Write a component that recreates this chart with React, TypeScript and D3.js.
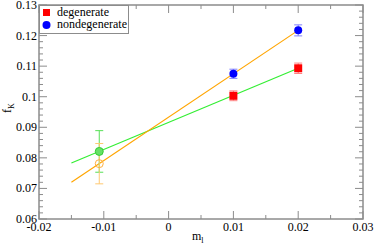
import React from "react";
import * as d3 from "d3";

// measured points (m_l, f_K, error)
const degX = [0.01, 0.02];
const degY = [0.1003, 0.1093];
const degErr = [0.0016, 0.0017];

const nonX = [0.01, 0.02];
const nonY = [0.1075, 0.1217];
const nonErr = [0.0015, 0.0018];

// extrapolated points
const extrapX = -0.0107;
const extrapDegY = 0.0821;
const extrapDegErr = 0.0068;
const extrapNonY = 0.0781;
const extrapNonErr = 0.0066;

// linear fits, endpoints
const fitX = [-0.015, 0.02];
const fitDegY = [0.0783, 0.1093];
const fitNonY = [0.072, 0.1217];

const xTicks = [-0.02, -0.01, 0, 0.01, 0.02, 0.03];
const yTicks = [0.06, 0.07, 0.08, 0.09, 0.1, 0.11, 0.12, 0.13];

const W = 374;
const H = 245;
const left = 39;
const right = 363;
const top = 5;
const bottom = 219;

const font = "Liberation Serif";
const axisColor = "#8c8c8c";

export default function App() {
  const x = d3.scaleLinear().domain([-0.02, 0.03]).range([left, right]);
  const y = d3.scaleLinear().domain([0.06, 0.13]).range([bottom, top]);

  const fitPath = (ys: number[]) =>
    d3
      .line<[number, number]>()
      .x((d) => x(d[0]))
      .y((d) => y(d[1]))(fitX.map((v, i) => [v, ys[i]]));

  const xMinor = d3.range(-0.02, 0.0301, 0.005);
  const yMinor = d3.range(0.06, 0.1301, 0.002);

  const errBar = (cx: number, cy: number, e: number, color: string, key: string) => {
    const px = x(cx);
    const y1 = y(cy + e);
    const y2 = y(cy - e);
    return (
      <g key={key} stroke={color} strokeWidth={1}>
        <line x1={px} x2={px} y1={y1} y2={y2} />
        <line x1={px - 4} x2={px + 4} y1={y1} y2={y1} />
        <line x1={px - 4} x2={px + 4} y1={y2} y2={y2} />
      </g>
    );
  };

  const txt = { fontFamily: font, fontSize: 12 };

  return (
    <svg width={W} height={H} style={{ position: "absolute", left: 0, top: 0, background: "white" }}>
      {/* fit lines */}
      <path d={fitPath(fitDegY) || ""} stroke="#33ee33" strokeWidth={1.2} fill="none" />
      <path d={fitPath(fitNonY) || ""} stroke="#ffa500" strokeWidth={1.2} fill="none" />

      {/* error bars */}
      {degX.map((v, i) => errBar(v, degY[i], degErr[i], "#ff8080", "de" + i))}
      {nonX.map((v, i) => errBar(v, nonY[i], nonErr[i], "#8080ff", "ne" + i))}
      {errBar(extrapX, extrapDegY, extrapDegErr, "#55e055", "xg")}
      {errBar(extrapX, extrapNonY, extrapNonErr, "#ffc870", "xo")}

      {/* markers */}
      {degX.map((v, i) => (
        <rect key={"d" + i} x={x(v) - 4} y={y(degY[i]) - 4} width={8} height={8} fill="#ff0000" />
      ))}
      {nonX.map((v, i) => (
        <circle key={"n" + i} cx={x(v)} cy={y(nonY[i])} r={4} fill="#0000ff" />
      ))}
      <circle cx={x(extrapX)} cy={y(extrapDegY)} r={4} fill="#66e066" stroke="#33cc33" strokeWidth={1} />
      <circle cx={x(extrapX)} cy={y(extrapNonY)} r={4} fill="none" stroke="#ffb040" strokeWidth={1} />

      {/* frame */}
      <rect x={left} y={top} width={right - left} height={bottom - top} fill="none" stroke={axisColor} strokeWidth={1.5} />

      {/* x ticks */}
      {xMinor.map((v, i) => {
        const len = i % 2 === 0 ? 8 : 4;
        return (
          <g key={"xt" + i} stroke={axisColor} strokeWidth={1}>
            <line x1={x(v)} x2={x(v)} y1={bottom} y2={bottom - len} />
            <line x1={x(v)} x2={x(v)} y1={top} y2={top + len} />
          </g>
        );
      })}
      {/* y ticks */}
      {yMinor.map((v, i) => {
        const len = i % 5 === 0 ? 8 : 4;
        return (
          <g key={"yt" + i} stroke={axisColor} strokeWidth={1}>
            <line x1={left} x2={left + len} y1={y(v)} y2={y(v)} />
            <line x1={right} x2={right - len} y1={y(v)} y2={y(v)} />
          </g>
        );
      })}

      {/* tick labels */}
      <g fill="#000">
        {xTicks.map((v) => (
          <text key={"xl" + v} x={x(v)} y={231} textAnchor="middle" style={txt}>
            {+v.toFixed(2)}
          </text>
        ))}
        {yTicks.map((v) => (
          <text key={"yl" + v} x={37} y={y(v) + 4} textAnchor="end" style={txt}>
            {+v.toFixed(2)}
          </text>
        ))}
      </g>

      {/* axis labels */}
      <text x={192} y={240} style={txt}>
        m<tspan style={{ fontSize: 8 }} dy={3}>l</tspan>
      </text>
      <text transform="translate(11,113) rotate(-90)" style={txt}>
        f<tspan style={{ fontSize: 8 }} dy={3}>K</tspan>
      </text>

      {/* legend */}
      <rect x={39.5} y={5.5} width={89} height={28} fill="white" stroke={axisColor} strokeWidth={1} />
      <rect x={43} y={9} width={7} height={7} fill="#ff0000" />
      <circle cx={46.5} cy={25} r={4} fill="#0000ff" />
      <text x={57} y={16} style={txt}>degenerate</text>
      <text x={57} y={28} style={txt}>nondegenerate</text>
    </svg>
  );
}
